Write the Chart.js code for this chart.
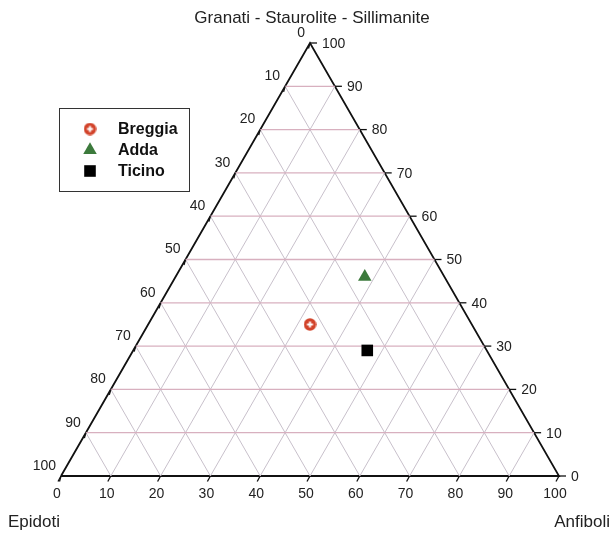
<!DOCTYPE html>
<html>
<head>
<meta charset="utf-8">
<script src="https://cdn.jsdelivr.net/npm/chart.js@4/dist/chart.umd.min.js"></script>
<style>
  html, body { margin: 0; padding: 0; background: #ffffff; }
  #wrap { width: 616px; height: 534px; }
</style>
</head>
<body>
<div id="wrap"><canvas id="c" width="616" height="534"></canvas></div>
<script>
// Ternary composition (percent) of the heavy-mineral assemblages
const seriesNames = ['Breggia', 'Adda', 'Ticino'];
const anfiboli = [32.5, 38, 47];
const granati  = [35, 46, 29];   // Granati - Staurolite - Sillimanite
const epidoti  = [32.5, 16, 24];

const tickValues = [0, 10, 20, 30, 40, 50, 60, 70, 80, 90, 100];
const gridValues = [10, 20, 30, 40, 50, 60, 70, 80, 90];

const titleTop   = 'Granati - Staurolite - Sillimanite';
const titleLeft  = 'Epidoti';
const titleRight = 'Anfiboli';

const FONT = "Arial, 'Liberation Sans', Helvetica, sans-serif";

// ternary (A, G, E) -> cartesian in the 0..100 plot frame
function toXY(a, g, e) {
  const s = a + g + e;
  const A = a / s * 100, G = g / s * 100;
  return { x: A + G / 2, y: G };
}

// Custom marker for Breggia: red disc with a white plus
function makeBreggiaMarker() {
  const c = document.createElement('canvas');
  c.width = 13; c.height = 13;
  const g = c.getContext('2d');
  g.fillStyle = '#d2432a';
  g.beginPath(); g.arc(6.5, 6.5, 6.2, 0, Math.PI * 2); g.fill();
  g.fillStyle = '#ffffff';
  g.fillRect(5.5, 3.5, 2, 6);
  g.fillRect(3.5, 5.5, 6, 2);
  return c;
}
const breggiaMarker = makeBreggiaMarker();

const pointStyles = [breggiaMarker, 'triangle', 'rect'];
const pointColors = ['#d2432a', '#3c7a3c', '#000000'];
const pointRadii  = [6.5, 7.8, 8.2];

// Grid lines: constant Granati (horizontal), constant Anfiboli, constant Epidoti
const gridG = gridValues.map(k => [toXY(0, k, 100 - k), toXY(100 - k, k, 0)]);
const gridA = gridValues.map(k => [toXY(k, 0, 100 - k), toXY(k, 100 - k, 0)]);
const gridE = gridValues.map(k => [toXY(100 - k, 0, k), toXY(0, 100 - k, k)]);

function lineSet(pts, color, width) {
  return {
    type: 'scatter', data: pts, showLine: true, borderColor: color,
    borderWidth: width, pointRadius: 0, clip: false, order: 5
  };
}

const datasets = [];
gridG.forEach(p => datasets.push(lineSet(p, '#d8b0bf', 1.3)));
gridA.forEach(p => datasets.push(lineSet(p, '#c8c0cb', 1)));
gridE.forEach(p => datasets.push(lineSet(p, '#c8c0cb', 1)));
// triangle frame
datasets.push(lineSet([toXY(0, 0, 100), toXY(100, 0, 0), toXY(0, 100, 0), toXY(0, 0, 100)], '#111111', 1.8));

seriesNames.forEach((name, i) => {
  datasets.push({
    type: 'scatter', label: name,
    data: [toXY(anfiboli[i], granati[i], epidoti[i])],
    pointStyle: pointStyles[i], pointRadius: pointRadii[i],
    backgroundColor: pointColors[i], borderColor: pointColors[i],
    borderWidth: 0, clip: false, order: 1
  });
});

const ternaryDecor = {
  id: 'ternaryDecor',
  afterDatasetsDraw(chart) {
    const ctx = chart.ctx;
    const xs = chart.scales.x, ys = chart.scales.y;
    const px = p => ({ x: xs.getPixelForValue(p.x), y: ys.getPixelForValue(p.y) });
    ctx.save();
    ctx.strokeStyle = '#111111';
    ctx.lineWidth = 1.3;
    ctx.fillStyle = '#222222';
    ctx.font = '14px ' + FONT;

    tickValues.forEach(t => {
      // bottom axis: Anfiboli
      let p = px(toXY(t, 0, 100 - t));
      ctx.beginPath(); ctx.moveTo(p.x, p.y); ctx.lineTo(p.x - 3, p.y + 5.5); ctx.stroke();
      ctx.textAlign = 'center'; ctx.textBaseline = 'middle';
      ctx.fillText(String(t), p.x - 4, p.y + 18);

      // right side: Granati
      p = px(toXY(100 - t, t, 0));
      ctx.beginPath(); ctx.moveTo(p.x, p.y); ctx.lineTo(p.x + 7, p.y); ctx.stroke();
      ctx.textAlign = 'left';
      ctx.fillText(String(t), p.x + 12, p.y + 1);

      // left side: Epidoti
      p = px(toXY(0, 100 - t, t));
      ctx.beginPath(); ctx.moveTo(p.x, p.y); ctx.lineTo(p.x - 1.5, p.y + 5.5); ctx.stroke();
      ctx.textAlign = 'right';
      ctx.fillText(String(t), p.x - 5, p.y - 10);
    });

    // axis titles
    ctx.fillStyle = '#222222';
    ctx.font = '17px ' + FONT;
    ctx.textBaseline = 'middle';
    ctx.textAlign = 'center';
    ctx.fillText(titleTop, 312, 18);
    ctx.textAlign = 'left';
    ctx.fillText(titleLeft, 8, 522);
    ctx.textAlign = 'right';
    ctx.fillText(titleRight, 610, 522);

    // legend box
    ctx.strokeStyle = '#333333';
    ctx.lineWidth = 1;
    ctx.strokeRect(59.5, 108.5, 130, 83);
    ctx.font = 'bold 16px ' + FONT;
    ctx.textAlign = 'left';
    const rowY = [129, 150, 171];
    chart.data.datasets.forEach(ds => {
      const i = seriesNames.indexOf(ds.label);
      if (i < 0) return;
      ctx.fillStyle = ds.backgroundColor;
      ctx.strokeStyle = ds.borderColor;
      Chart.helpers.drawPoint(ctx, {
        pointStyle: ds.pointStyle, radius: ds.pointRadius, borderWidth: 0, rotation: 0
      }, 90, rowY[i]);
      ctx.fillStyle = '#111111';
      ctx.fillText(ds.label, 118, rowY[i] + 1);
    });
    ctx.restore();
  }
};

new Chart(document.getElementById('c'), {
  type: 'scatter',
  data: { datasets },
  options: {
    responsive: false,
    animation: false,
    devicePixelRatio: 1,
    layout: { padding: { left: 61, right: 57, top: 43, bottom: 58 } },
    scales: {
      x: { type: 'linear', min: 0, max: 100, display: false },
      y: { type: 'linear', min: 0, max: 100, display: false }
    },
    plugins: { legend: { display: false }, tooltip: { enabled: false } }
  },
  plugins: [ternaryDecor]
});
</script>
</body>
</html>
